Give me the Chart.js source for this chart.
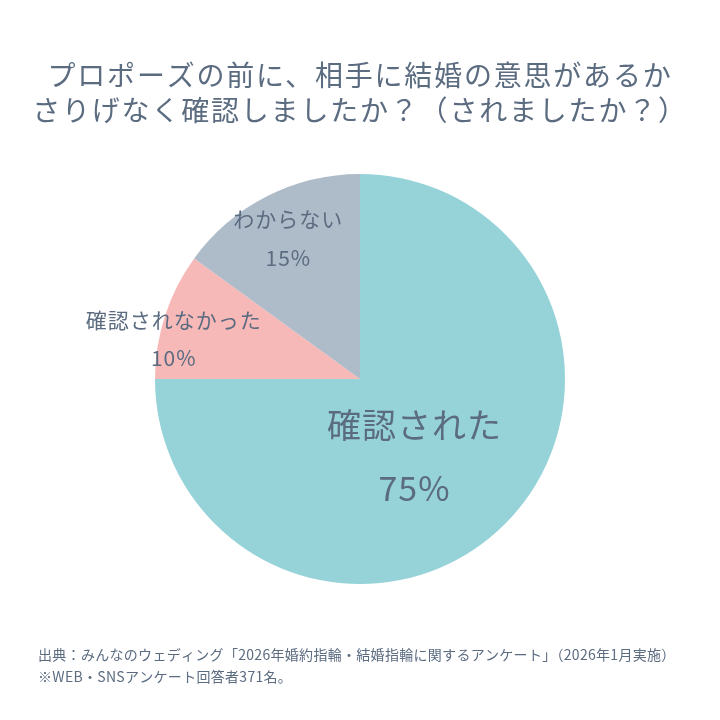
<!DOCTYPE html>
<html><head><meta charset="utf-8">
<script src="https://cdn.jsdelivr.net/npm/chart.js@4"></script>
<style>html,body{margin:0;background:#fff}#c{display:block}</style>
</head><body>
<div style="width:720px;height:720px"><canvas id="c"></canvas></div>
<script>
const labels = ['確認された', '確認されなかった', 'わからない'];
const values = [75, 10, 15];
const colors = ['#96d3d9', '#f7b9b8', '#aebbc9'];
const titleLines = ['プロポーズの前に、相手に結婚の意思があるか', 'さりげなく確認しましたか？（されましたか？）'];
const noteLines = ['出典：みんなのウェディング「2026年婚約指輪・結婚指輪に関するアンケート」（2026年1月実施）', '※WEB・SNSアンケート回答者371名。'];

const textColor = '#5b6b80';
const font = '"Noto Sans CJK JP", "Noto Sans", sans-serif';
const labelRadius = [0.46, 0.93, 0.77];
const labelAngleShift = [0.17, -0.1, 0];
const labelSize = [34, 21, 21];

const textPlugin = {
    id: 'texts',
    afterDraw(chart) {
        const c = chart.ctx;
        c.save();
        c.fillStyle = textColor;
        c.textAlign = 'center';
        c.textBaseline = 'middle';
        c.font = '28px ' + font;
        c.letterSpacing = '1.8px';
        c.fillText(titleLines[0], 360, 75);
        c.fillText(titleLines[1], 360, 110);
        c.textAlign = 'left';
        c.font = '14px ' + font;
        c.letterSpacing = '0.3px';
        c.fillText(noteLines[0], 38, 655);
        c.fillText(noteLines[1], 38, 677);
        c.textAlign = 'center';
        c.letterSpacing = '1px';
        chart.getDatasetMeta(0).data.forEach((arc, i) => {
            const mid = (arc.startAngle + arc.endAngle) / 2 + labelAngleShift[i];
            const r = arc.outerRadius * labelRadius[i];
            const x = arc.x + Math.cos(mid) * r;
            const y = arc.y + Math.sin(mid) * r;
            const s = labelSize[i];
            c.font = s + 'px ' + font;
            c.fillText(labels[i], x, y - s * 0.9);
            c.fillText(values[i] + '%', x, y + s * 0.95);
        });
        c.restore();
    }
};

new Chart(document.getElementById('c'), {
    type: 'pie',
    data: {
        labels: labels,
        datasets: [{ data: values, backgroundColor: colors, borderWidth: 0 }]
    },
    options: {
        responsive: true,
        maintainAspectRatio: false,
        animation: false,
        layout: { padding: { top: 174, bottom: 136 } },
        plugins: { legend: { display: false }, tooltip: { enabled: false } }
    },
    plugins: [textPlugin]
});
</script>
</body></html>
